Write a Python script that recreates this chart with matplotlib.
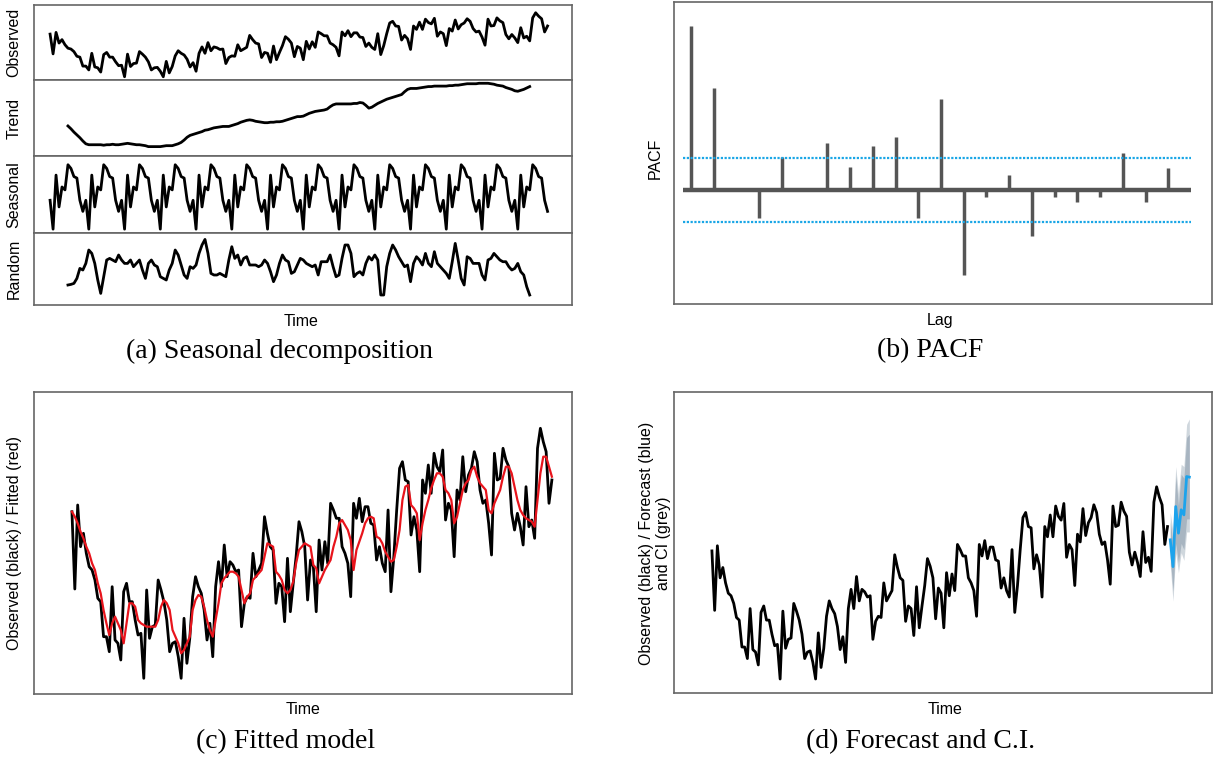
import numpy as np
import matplotlib.pyplot as plt

nan = np.nan

# observed series (monthly, 14 years)
observed = [
    180.3, 103.0, 187.0, 145.3, 158.7, 138.7, 125.3, 122.0, 112.0, 93.7, 90.3, 55.3,
    55.3, 40.3, 105.3, 52.0, 48.7, 32.0, 100.3, 108.7, 90.3, 90.3, 72.0, 57.0,
    58.7, 13.7, 102.0, 53.7, 65.3, 67.0, 112.0, 102.0, 90.3, 72.0, 40.3, 48.7,
    50.3, 35.3, 13.7, 73.7, 28.7, 53.7, 95.3, 115.3, 105.3, 98.7, 82.0, 52.0,
    68.7, 35.3, 105.3, 130.3, 105.3, 147.0, 115.3, 130.3, 127.0, 120.3, 122.0, 65.3,
    88.7, 95.3, 93.7, 138.7, 115.3, 122.0, 128.7, 175.3, 158.7, 145.3, 142.0, 88.7,
    108.7, 105.3, 70.3, 133.7, 80.3, 108.7, 135.3, 170.3, 160.3, 145.3, 92.0, 132.0,
    125.3, 80.3, 152.0, 122.0, 150.3, 128.7, 188.7, 182.0, 173.7, 173.7, 145.3, 138.7,
    128.7, 95.3, 188.7, 173.7, 193.7, 170.3, 185.3, 185.3, 168.7, 167.0, 132.0, 145.3,
    128.7, 120.3, 182.0, 100.3, 135.3, 182.0, 223.7, 230.3, 212.0, 210.3, 157.0, 175.3,
    162.0, 120.3, 212.0, 198.7, 227.0, 198.7, 238.7, 225.3, 220.3, 242.0, 172.0, 188.7,
    182.0, 135.3, 202.0, 192.0, 235.3, 200.3, 217.0, 223.7, 240.3, 230.3, 202.0, 188.7,
    192.0, 168.7, 137.0, 238.7, 212.0, 213.7, 243.7, 232.0, 225.3, 178.7, 162.0, 178.7,
    165.3, 147.0, 205.3, 165.3, 172.0, 153.7, 243.7, 263.7, 250.3, 240.3, 188.7, 212.0,
]

fitted = [
    180.3, 175.3, 168.7, 160.3, 153.7, 145.3, 138.7, 128.7, 122.0, 108.7, 98.7, 82.0,
    68.7, 57.0, 68.7, 75.3, 68.7, 62.0, 48.7, 68.7, 88.7, 88.7, 85.3, 72.0,
    68.7, 67.0, 65.3, 65.3, 65.3, 65.3, 72.0, 85.3, 92.0, 88.7, 82.0, 62.0,
    55.3, 48.7, 38.7, 42.0, 48.7, 55.3, 82.0, 92.0, 97.0, 95.3, 85.3, 72.0,
    62.0, 55.3, 72.0, 88.7, 108.7, 113.7, 117.0, 120.3, 120.3, 118.7, 115.3, 102.0,
    88.7, 95.3, 98.7, 112.0, 115.3, 118.7, 122.0, 135.3, 148.7, 147.0, 145.3, 120.3,
    117.0, 112.0, 102.0, 98.7, 102.0, 110.3, 128.7, 142.0, 145.3, 148.7, 147.0, 145.3,
    127.0, 123.7, 108.7, 115.3, 122.0, 127.0, 132.0, 145.3, 155.3, 168.7, 172.0, 167.0,
    162.0, 152.0, 122.0, 142.0, 150.3, 158.7, 168.7, 173.7, 175.3, 173.7, 155.3, 153.7,
    148.7, 140.3, 135.3, 130.3, 132.0, 145.3, 162.0, 192.0, 205.3, 207.0, 187.0, 183.7,
    178.7, 152.0, 168.7, 182.0, 192.0, 203.7, 212.0, 218.7, 218.7, 215.3, 202.0, 198.7,
    192.0, 168.7, 175.3, 188.7, 202.0, 208.7, 212.0, 222.0, 225.3, 215.3, 208.7, 205.3,
    202.0, 182.0, 178.7, 188.7, 195.3, 202.0, 215.3, 225.3, 225.3, 218.7, 205.3, 192.0,
    182.0, 177.0, 173.7, 172.0, 170.3, 165.3, 192.0, 218.7, 235.3, 235.3, 225.3, 215.3,
]

trend = [nan] * 6 + [
    114, 108, 101, 95, 89, 82, 76, 74, 74, 74, 74, 74,
    73, 74, 74, 75, 74, 74, 75, 76, 77, 76, 75, 74,
    74, 73, 72, 70, 70, 70, 70, 70, 71, 72, 72, 72,
    74, 76, 79, 84, 90, 94, 96, 98, 100, 102, 105, 106,
    108, 110, 111, 112, 113, 113, 113, 115, 117, 119, 122, 124,
    126, 127, 126, 124, 123, 122, 121, 121, 122, 122, 123, 123,
    124, 126, 128, 130, 132, 134, 134, 135, 138, 141, 143, 145,
    146, 147, 148, 150, 155, 159, 161, 161, 161, 161, 161, 161,
    162, 162, 164, 163, 158, 152, 154, 158, 162, 165, 168, 171,
    173, 175, 177, 179, 181, 187, 192, 194, 194, 194, 195, 196,
    197, 198, 198, 199, 199, 199, 199, 199, 200, 200, 201, 201,
    202, 203, 204, 204, 204, 204, 205, 205, 205, 205, 204, 203,
    201, 200, 199, 196, 194, 192, 189, 188, 190, 192, 195, 198,
] + [nan] * 6

seasonal_pattern = [-13, -52, 21, -22, 5, 1, 35, 30, 19, 17, -13, -28]
seasonal = seasonal_pattern * 14

random_part = [nan] * 6 + [
    -18.3, -17.7, -16.7, -11.7, -1.7, -3.3, 3.3, 16.7, 13.3, 3.3, -13.3, -26.7,
    -10.0, 6.7, 8.3, 6.7, 5.0, 11.7, 6.7, 3.3, 3.3, 6.7, 0.0, 3.3,
    6.7, -3.3, -11.7, 3.3, 6.7, 1.7, 0.0, -10.0, -11.7, -13.3, -3.3, 3.3,
    16.7, 11.7, 1.7, -8.3, -11.7, 0.0, -1.7, 1.7, 13.3, 21.7, 27.3, 13.3,
    -6.7, -8.3, -8.3, -6.7, -8.3, -10.0, 6.7, 20.0, 8.3, 11.7, 1.7, 8.3,
    10.0, 1.7, 1.7, 1.7, 0.0, 1.7, 6.7, 3.3, -5.0, -15.0, -8.3, 3.3,
    11.7, 6.7, 5.0, -6.7, -5.0, 1.7, 8.3, 6.7, 3.3, 1.7, 0.0, 1.7,
    -8.3, 5.0, 5.0, 5.0, 11.7, 0.0, -10.0, -8.3, 8.3, 21.7, 21.7, 13.3,
    -10.0, -6.7, -5.0, -8.3, 3.3, 10.0, 6.7, 11.7, 6.7, -28.3, -28.3, 0.0,
    13.3, 21.7, 16.7, 10.0, 5.0, 0.0, 1.7, -15.0, 3.3, 10.0, 6.7, 1.7,
    13.3, 3.3, 0.0, 15.0, 3.3, 0.0, -3.3, -6.7, -11.7, 5.0, 23.3, 6.7,
    -11.7, -18.3, 10.0, 8.3, 3.3, 3.3, 3.3, -8.3, -13.3, 6.7, 8.3, 13.3,
    10.0, 6.7, 5.0, 5.0, 0.0, -3.3, -1.7, 3.3, -5.0, -8.3, -20.0, -28.3,
] + [nan] * 6

forecast = [194.7, 159.9, 238.0, 203.4, 233.8, 227.2, 277.0, 276.3]
lo95 = [162, 115, 178, 152, 178, 168, 205, 205]
hi95 = [230, 205, 290, 255, 293, 290, 345, 352]
lo80 = [172, 128, 190, 165, 190, 182, 222, 222]
hi80 = [218, 190, 278, 240, 280, 275, 328, 332]

lags = list(range(1, 23))
pacf_vals = [0.78, 0.484, 0.0, -0.135, 0.159, 0.0, 0.222, 0.108, 0.211, 0.251, -0.135,
             0.432, -0.405, -0.032, 0.071, -0.219, -0.032, -0.056, -0.032, 0.178, -0.056, 0.106]
ci = 0.151

t_obs = np.arange(len(observed))
t_fc = np.arange(len(observed), len(observed) + len(forecast))

sans = ['Liberation Sans', 'DejaVu Sans']
serif = ['Liberation Serif', 'DejaVu Serif']
lab_size = 11.5
cap_size = 20
spine_col = '#666666'

fig = plt.figure(figsize=(12.14, 7.67), dpi=100)
W, H = 1214, 767


def add_box(x0, y0, x1, y1):
    ax = fig.add_axes([x0 / W, 1 - y1 / H, (x1 - x0) / W, (y1 - y0) / H])
    ax.set_xticks([])
    ax.set_yticks([])
    for s in ax.spines.values():
        s.set_color(spine_col)
        s.set_linewidth(1.2)
    return ax


def vlabel(x, y, text):
    fig.text(x / W, 1 - y / H, text, rotation=90, ha='center', va='center',
             family=sans, fontsize=lab_size, multialignment='center')


def hlabel(x, y, text, size=lab_size, fam=sans):
    fig.text(x / W, 1 - y / H, text, ha='center', va='center', family=fam, fontsize=size)


# (a) seasonal decomposition
rows = [
    (5, 80, observed, (1, 294), 'Observed'),
    (80, 156, trend, (50, 212), 'Trend'),
    (156, 233, seasonal, (-57.2, 46.8), 'Seasonal'),
    (233, 305, random_part, (-38.3, 33.7), 'Random'),
]
for y0, y1, series, ylim, name in rows:
    ax = add_box(34, y0, 572, y1)
    ax.plot(t_obs, series, color='black', lw=2.0)
    ax.set_xlim(-5.4, 175.2)
    ax.set_ylim(*ylim)
    vlabel(14, (y0 + y1) / 2, name)
hlabel(301, 322, 'Time')
hlabel(279, 351, '(a) Seasonal decomposition', cap_size, serif)

# (b) PACF
ax = add_box(674, 2, 1212, 304)
ax.vlines(lags, 0, pacf_vals, color='#555555', lw=2.5)
ax.hlines(0, 0.65, 23.0, color='#555555', lw=3.2)
for c in (ci, -ci):
    ax.hlines(c, 0.65, 23.0, color='#1aa6e6', lw=1.6, linestyles=(0, (1, 0.7)))
ax.set_xlim(0.253, 23.92)
ax.set_ylim(-0.543, 0.895)
vlabel(655, 158, 'PACF')
hlabel(940, 321, 'Lag')
hlabel(930, 351, '(b) PACF', cap_size, serif)

# (c) fitted model
ax = add_box(34, 392, 572, 694)
ax.plot(t_obs, observed, color='black', lw=2.0)
ax.plot(t_obs, fitted, color='#e8141c', lw=1.6)
ax.set_xlim(-13.2, 174)
ax.set_ylim(-2, 300)
vlabel(15, 543, 'Observed (black) / Fitted (red)')
hlabel(303, 709, 'Time')
hlabel(286, 742, '(c) Fitted model', cap_size, serif)

# (d) forecast and C.I.
ax = add_box(674, 392, 1212, 693)
ax.fill_between(t_fc, lo95, hi95, color='#a9b6c2', alpha=0.55, lw=0)
ax.fill_between(t_fc, lo80, hi80, color='#8394a6', alpha=0.5, lw=0)
ax.plot(t_obs, observed, color='black', lw=2.0)
ax.plot(t_fc, forecast, color='#1ca3ec', lw=2.0)
ax.set_xlim(-13.9, 183.3)
ax.set_ylim(-4.5, 387)
vlabel(655, 543, 'Observed (black) / Forecast (blue)\nand CI (grey)')
hlabel(945, 710, 'Time')
hlabel(921, 742, '(d) Forecast and C.I.', cap_size, serif)

fig.savefig('out.png', dpi=100)
